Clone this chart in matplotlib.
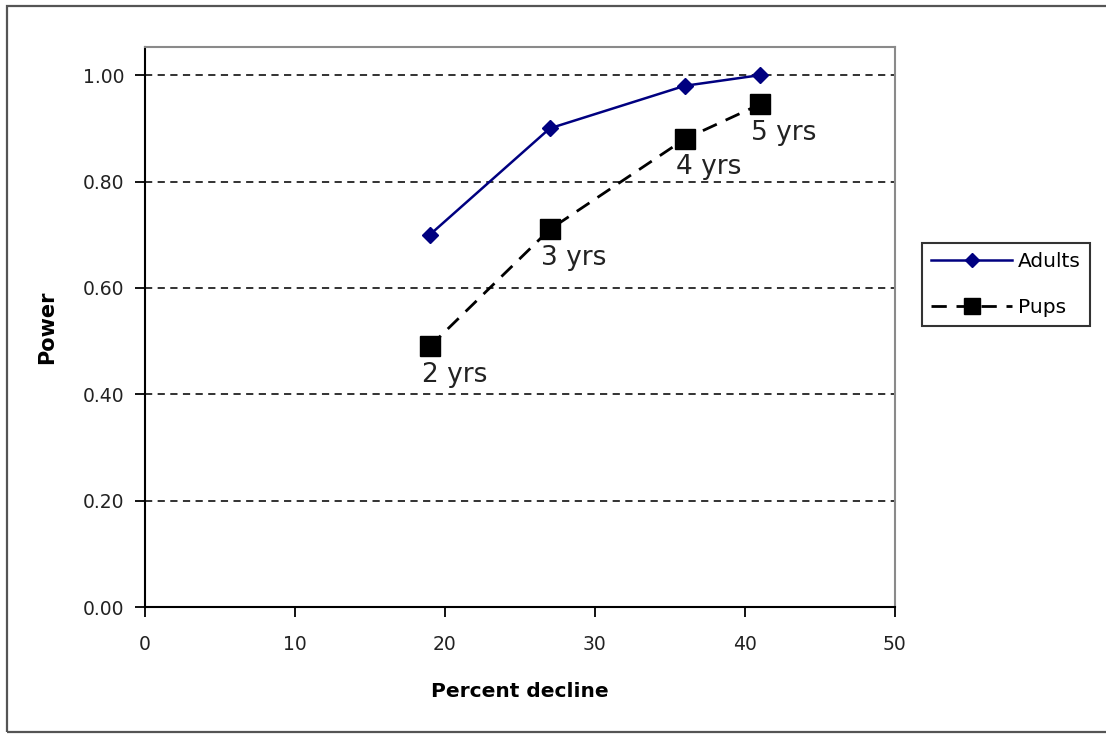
import matplotlib
matplotlib.use("Agg")
import matplotlib.pyplot as plt
from matplotlib.patches import Rectangle

# values
percent_decline = [19, 27, 36, 41]
adults_power = [0.70, 0.90, 0.98, 1.00]
pups_power = [0.49, 0.71, 0.88, 0.945]
pup_labels = ["2 yrs", "3 yrs", "4 yrs", "5 yrs"]

x_ticks = [0, 10, 20, 30, 40, 50]
y_ticks = [0.0, 0.2, 0.4, 0.6, 0.8, 1.0]

plt.rcParams['font.family'] = ['DejaVu Sans']

fig = plt.figure(figsize=(11.06, 7.34), dpi=100)
ax = fig.add_axes([0.131, 0.173, 0.678, 0.763])

# horizontal dashed grid lines
for yv in y_ticks[1:]:
    ax.axhline(yv, color='#222222', lw=1.3, dashes=(4, 3), zorder=1)

ax.plot(percent_decline, adults_power, color='#000080', lw=1.8,
        marker='D', markersize=8.5, label='Adults', zorder=3)
ax.plot(percent_decline, pups_power, color='black', lw=2.0, dashes=(5.5, 3.5),
        marker='s', markersize=14, label='Pups', zorder=3)

# year labels under the pup points
for xv, yv, txt in zip(percent_decline, pups_power, pup_labels):
    ax.annotate(txt, (xv, yv), xytext=(-6, -11), textcoords='offset points',
                ha='left', va='top', fontsize=19, color='#222222', zorder=4)

ax.set_xlim(0, 50)
ax.set_ylim(0, 1.053)
ax.set_xticks(x_ticks)
ax.set_yticks(y_ticks)
ax.set_yticklabels(['%.2f' % v for v in y_ticks])
ax.tick_params(axis='both', direction='out', length=7, width=1.3,
               labelsize=13.5, colors='black', labelcolor='#222222')
ax.tick_params(axis='x', pad=13)
ax.tick_params(axis='y', pad=8)

for side in ['left', 'bottom']:
    ax.spines[side].set_color('black')
    ax.spines[side].set_linewidth(1.5)
for side in ['top', 'right']:
    ax.spines[side].set_color('#8a8a8a')
    ax.spines[side].set_linewidth(1.5)

ax.set_xlabel('Percent decline', fontsize=14.5, fontweight='bold', labelpad=20)
ax.set_ylabel('Power', fontsize=15, fontweight='bold', labelpad=18)

leg = ax.legend(loc='upper left', bbox_to_anchor=(0.834, 0.669),
                bbox_transform=fig.transFigure, borderaxespad=0,
                fancybox=False, frameon=True, fontsize=14.5,
                handlelength=4, labelspacing=1.35, handletextpad=0.3,
                borderpad=0.45, markerscale=0.8)
leg.get_frame().set_edgecolor('black')
leg.get_frame().set_linewidth(1.5)

# outer border of the chart area
fig.add_artist(Rectangle((0.0065, 0.003), 1.1, 0.9895, transform=fig.transFigure,
                         fill=False, ec='#555555', lw=1.6))

fig.savefig('out.png', dpi=100)
